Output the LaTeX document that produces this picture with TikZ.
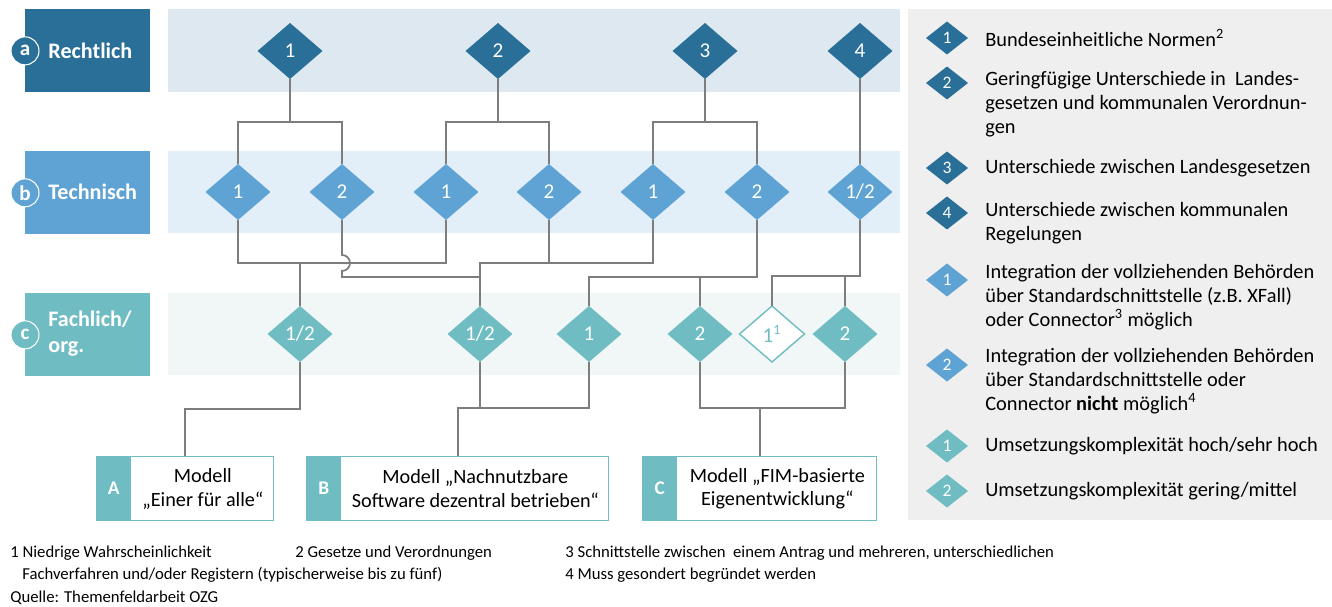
\documentclass[tikz,border=0pt]{standalone}
\usepackage{fontspec}
\setmainfont{Carlito}
\usetikzlibrary{positioning,shapes.geometric,calc}

\definecolor{rechtblue}{RGB}{42,111,151}
\definecolor{technblue}{RGB}{95,163,212}
\definecolor{fachteal}{RGB}{111,189,194}
\definecolor{rechtband}{RGB}{221,232,240}
\definecolor{technband}{RGB}{227,239,248}
\definecolor{fachband}{RGB}{241,247,246}
\definecolor{legendgray}{RGB}{239,239,239}
\definecolor{linegray}{RGB}{125,125,125}

\begin{document}
\begin{tikzpicture}[
    x=0.02cm, y=-0.02cm,
    level/.style={diamond,fill=#1,text=white,inner sep=0pt,outer sep=0pt,minimum width=1.3cm,minimum height=1.12cm,font=\fontsize{12}{13}\selectfont},
    keydiamond/.style={diamond,fill=#1,text=white,inner sep=0pt,outer sep=0pt,minimum width=0.84cm,minimum height=0.66cm,font=\fontsize{10}{11}\selectfont},
    keytext/.style={anchor=west,align=left,inner sep=0pt,font=\fontsize{11.6}{13.6}\selectfont},
    catbox/.style={rectangle,fill=#1,inner sep=0pt,minimum width=2.5cm,minimum height=1.66cm,anchor=north west},
    catdot/.style={circle,fill=#1,draw=white,line width=0.6pt,inner sep=0pt,minimum size=0.56cm,text=white,font=\bfseries\fontsize{12}{13}\selectfont},
    cattext/.style={anchor=west,align=left,inner sep=0pt,text=white,font=\bfseries\fontsize{12.6}{14.7}\selectfont},
    modbox/.style={rectangle,draw=fachteal,line width=0.8pt,fill=white,inner sep=0pt,minimum height=1.28cm,anchor=north west},
    modtag/.style={rectangle,draw=fachteal,line width=0.8pt,fill=fachteal,text=white,inner sep=0pt,minimum width=0.68cm,minimum height=1.28cm,anchor=west,font=\bfseries\fontsize{11}{13}\selectfont},
    modtext/.style={align=center,inner sep=0pt,font=\fontsize{11.5}{13.6}\selectfont},
    conn/.style={draw=linegray,line width=1pt},
    note/.style={anchor=west,inner sep=0pt,font=\fontsize{9.5}{11}\selectfont}
    ]

    \useasboundingbox (0,0) rectangle (1332,607);

    % bands and legend panel
    \fill[rechtband] (168,9) rectangle (900,92);
    \fill[technband] (168,151) rectangle (900,233);
    \fill[fachband] (168,293) rectangle (900,375);
    \fill[legendgray] (908,9) rectangle (1332,520);

    % categories
    \node (catA) [catbox=rechtblue] at (25,9) {};
    \node (catB) [catbox=technblue] at (25,151) {};
    \node (catC) [catbox=fachteal] at (25,293) {};
    \node (dotA) [catdot=rechtblue] at (catA.west) {a};
    \node (dotB) [catdot=technblue] at (catB.west) {b};
    \node (dotC) [catdot=fachteal] at (catC.west) {c};
    \node (labA) [cattext] at (48,51) {Rechtlich};
    \node (labB) [cattext] at (48,192) {Technisch};
    \node (labC) [cattext] at (48,334) {Fachlich/\\org.};

    % diamonds
    \foreach \n/\x in {1/290,2/498,3/705,4/860}
      \node (r\n) [level=rechtblue] at (\x,51) {\n};

    \foreach \n/\x/\t in {1/238/1,2/342/2,3/446/1,4/549/2,5/653/1,6/757/2,7/860/{1/2}}
      \node (t\n) [level=technblue] at (\x,192) {\t};

    \foreach \n/\x/\t in {1/300/{1/2},2/480/{1/2},3/589/1,4/700/2,6/845/2}
      \node (f\n) [level=fachteal] at (\x,334) {\t};
    \node (f5) [level=white,draw=fachteal,line width=0.8pt,text=fachteal] at (772,334) {1\textsuperscript{1}};

    % models
    \node (modA) [modbox,minimum width=3.54cm] at (96,456) {};
    \node (modB) [modbox,minimum width=6.04cm] at (306,456) {};
    \node (modC) [modbox,minimum width=4.68cm] at (642,456) {};
    \node (tagA) [modtag] at (modA.west) {A};
    \node (tagB) [modtag] at (modB.west) {B};
    \node (tagC) [modtag] at (modC.west) {C};
    \node (txtA) [modtext] at ($(tagA.east)!0.5!(modA.east)$) {Modell\\„Einer für alle“};
    \node (txtB) [modtext] at ($(tagB.east)!0.5!(modB.east)$) {Modell „Nachnutzbare\\Software dezentral betrieben“};
    \node (txtC) [modtext] at ($(tagC.east)!0.5!(modC.east)$) {Modell „FIM-basierte\\Eigenentwicklung“};

    % Rechtlich -> Technisch
    \foreach \r/\i/\j in {r1/t1/t2,r2/t3/t4,r3/t5/t6} {
      \draw[conn] (\i.north) |- (\r.south |- 0,122) -| (\j.north);
      \draw[conn] (\r.south) -- (\r.south |- 0,122);
    }
    \draw[conn] (r4.south) -- (t7.north);

    % Technisch -> Fachlich
    \draw[conn] (t1.south) |- (f1.north |- 0,263) -| (t3.south);
    \draw[conn] (f1.north) -- (f1.north |- 0,263);
    \draw[conn] (t2.south) -- ++(0,35) arc[start angle=90,end angle=-90,radius=0.16cm]
      -- (t2.south |- 0,277) -- (f2.north |- 0,277);
    \draw[conn] (f2.north) -- (f2.north |- 0,263) -| (t5.south);
    \draw[conn] (t4.south) -- (t4.south |- 0,263);
    \draw[conn] (f3.north) -- (f3.north |- 0,277) -| (t6.south);
    \draw[conn] (f4.north) -- (f4.north |- 0,277);
    \draw[conn] (f5.north) -- (f5.north |- 0,276) -| (t7.south);
    \draw[conn] (f6.north) -- (f6.north |- 0,276);

    % Fachlich -> Modelle
    \draw[conn] (f1.south) -- (f1.south |- 0,409) -| (modA.north);
    \draw[conn] (f3.south) -- (f3.south |- 0,408) -| (modB.north);
    \draw[conn] (f2.south) -- (f2.south |- 0,408);
    \draw[conn] (f4.south) -- (f4.south |- 0,408) -| (f6.south);
    \draw[conn] (modC.north) -- (modC.north |- 0,408);

    % legend
    \foreach \n/\y/\c/\t in {1/38/rechtblue/1,2/83/rechtblue/2,3/168/rechtblue/3,4/213/rechtblue/4,
                             5/280/technblue/1,6/365/technblue/2,7/446/fachteal/1,8/491/fachteal/2}
      \node (key\n) [keydiamond=\c] at (947,\y) {\t};

    \node (keytxt1) [keytext] at (985,38) {Bundeseinheitliche Normen\textsuperscript{2}};
    \node (keytxt2) [keytext] at (985,104) {Geringfügige Unterschiede in\ \ Landes-\\gesetzen und kommunalen Verordnun-\\gen};
    \node (keytxt3) [keytext] at (985,168) {Unterschiede zwischen Landesgesetzen};
    \node (keytxt4) [keytext] at (985,223) {Unterschiede zwischen kommunalen\\Regelungen};
    \node (keytxt5) [keytext] at (985,297) {Integration der vollziehenden Behörden\\über Standardschnittstelle (z.B. XFall)\\oder Connector\textsuperscript{3} möglich};
    \node (keytxt6) [keytext] at (985,381) {Integration der vollziehenden Behörden\\über Standardschnittstelle oder\\Connector \textbf{nicht} möglich\textsuperscript{4}};
    \node (keytxt7) [keytext] at (985,446) {Umsetzungskomplexität hoch/sehr hoch};
    \node (keytxt8) [keytext] at (985,491) {Umsetzungskomplexität gering/mittel};

    % footnotes
    \node (fn1) [note] at (10,553) {1 Niedrige Wahrscheinlichkeit};
    \node (fn1b) [note] at (22,575) {Fachverfahren und/oder Registern (typischerweise bis zu fünf)};
    \node (fn2) [note] at (295,553) {2 Gesetze und Verordnungen};
    \node (fn3) [note] at (565,553) {3 Schnittstelle zwischen\ \ einem Antrag und mehreren, unterschiedlichen};
    \node (fn4) [note] at (565,575) {4 Muss gesondert begründet werden};
    \node (src) [note] at (10,598) {Quelle: Themenfeldarbeit OZG};

  \end{tikzpicture}
\end{document}
